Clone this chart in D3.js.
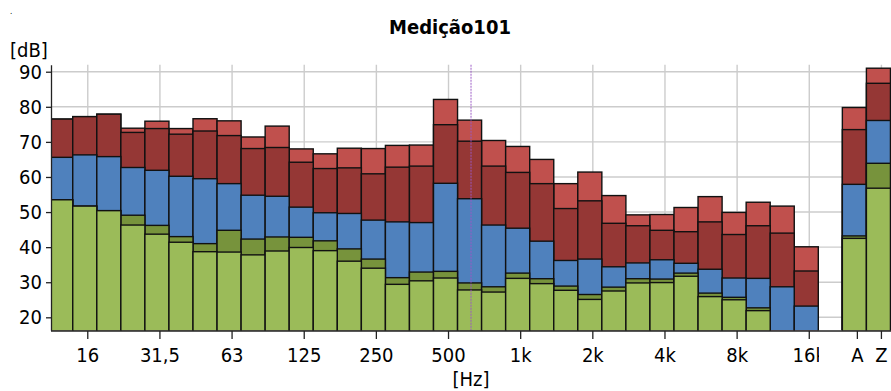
<!DOCTYPE html>
<html>
<head>
<meta charset="utf-8">
<script src="https://cdn.jsdelivr.net/npm/d3@7/dist/d3.min.js"></script>
<style>
  body { margin: 0; background: #fff; }
  svg text { font-family: "DejaVu Sans Condensed", "DejaVu Sans", sans-serif; font-stretch: condensed; fill: #000; }
</style>
</head>
<body>
<div id="chart"></div>
<script>
// 1/3 octave bands, then the two overall values
var bands = ["12.5","16","20","25","31.5","40","50","63","80","100","125","160","200","250","315","400",
             "500","630","800","1k","1.25k","1.6k","2k","2.5k","3.15k","4k","5k","6.3k","8k","10k","12.5k","16k","A","Z"];
// light red (top), dark red, blue, dark green, green (bottom)
var lMax  = [76.5,77.2,77.9,73.9,75.9,73.8,76.6,76.0,71.4,74.5,68.0,66.6,68.2,68.1,69.0,69.1,
             82.1,76.2,70.4,68.7,65.0,58.1,61.4,54.7,49.2,49.3,51.3,54.4,49.9,52.8,51.7,40.1,79.8,91.0];
var lHigh = [76.5,77.2,77.9,72.7,73.8,72.2,73.1,71.8,68.1,68.4,64.2,62.4,62.6,60.9,62.8,63.1,
             74.9,70.2,63.1,61.3,58.1,51.0,53.2,46.8,46.1,44.8,44.4,47.2,43.6,46.1,44.0,33.2,73.5,86.7];
var lMid  = [65.6,66.3,65.8,62.7,61.9,60.2,59.5,58.1,54.8,54.5,51.4,49.8,49.6,47.7,47.2,47.0,
             58.2,53.8,46.3,45.4,41.7,36.2,36.6,34.4,35.5,36.4,35.4,33.7,31.2,31.1,28.7,23.2,57.9,76.1];
var lLow  = [53.5,51.7,50.4,49.1,46.2,43.0,41.0,44.8,42.3,42.9,42.8,41.8,39.5,36.6,31.3,32.9,
             33.1,29.8,28.7,32.6,31.0,28.9,26.5,28.6,31.0,30.9,32.6,26.9,25.7,22.7,15.5,15.0,43.2,63.9];
var lMin  = [53.5,51.7,50.4,46.3,43.7,41.4,38.7,38.6,37.8,38.9,39.9,39.0,36.0,34.0,29.4,30.4,
             31.2,27.8,27.2,31.1,29.6,27.7,25.1,27.5,29.8,29.9,31.7,25.9,25.0,21.9,15.0,14.5,42.5,56.8];

var freqTicks  = ["16","31.5","63","125","250","500","1k","2k","4k","8k","16k"];
var freqLabels = ["16","31,5","63","125","250","500","1k","2k","4k","8k","16k"];
var sumTicks = ["A","Z"];
var yTicks = [20,30,40,50,60,70,80,90];
var cursorBand = "630";

var W = 891, H = 391;
var plot = {left: 51, right: 891, top: 64.7, bottom: 330.3};
var colors = ["#c0504d","#953735","#4f81bd","#77933c","#9bbb59"];
var series = [lMax, lHigh, lMid, lLow, lMin];

// slot list keeps an empty slot between 16k and A
var slots = bands.slice(0, 32).concat(["gap"], bands.slice(32));

var svg = d3.select("#chart").append("svg").attr("width", W).attr("height", H);
var defs = svg.append("defs");
defs.append("clipPath").attr("id", "plotClip").append("rect")
  .attr("x", plot.left).attr("y", plot.top)
  .attr("width", plot.right - plot.left).attr("height", plot.bottom - plot.top);
defs.append("clipPath").attr("id", "labelClip").append("rect")
  .attr("x", 0).attr("y", -10).attr("width", 819).attr("height", 80);

var x = d3.scaleBand().domain(slots).range([48.7, 890.45]).padding(0);
var y = d3.scaleLinear().domain([16.3, 92]).range([plot.bottom, plot.top]);
var bw = x.bandwidth();
var tickX = function(b) { return x(b) + bw / 2 + 3; };

// grid
svg.append("g").selectAll("line").data(yTicks).enter().append("line")
  .attr("x1", plot.left).attr("x2", plot.right)
  .attr("y1", function(d) { return y(d); }).attr("y2", function(d) { return y(d); })
  .attr("stroke", "#cccccc").attr("stroke-width", 1.4);
svg.append("g").selectAll("line").data(freqTicks.concat(["Z"])).enter().append("line")
  .attr("x1", tickX).attr("x2", tickX)
  .attr("y1", plot.top).attr("y2", plot.bottom)
  .attr("stroke", "#cccccc").attr("stroke-width", 1.4);

// bars: tallest level first, each level drawn from the bottom
var bars = svg.append("g").attr("clip-path", "url(#plotClip)");
series.forEach(function(vals, k) {
  bars.append("g").selectAll("rect").data(bands).enter().append("rect")
    .attr("x", function(b) { return x(b); })
    .attr("width", bw)
    .attr("y", function(b, i) { return y(vals[i]); })
    .attr("height", function(b, i) { return Math.max(0, y(16.3) - y(vals[i]) + 4); })
    .attr("fill", colors[k])
    .attr("stroke", "#111")
    .attr("stroke-width", 1.4);
});

// cursor
svg.append("line")
  .attr("x1", x(cursorBand) + bw * 0.56).attr("x2", x(cursorBand) + bw * 0.56)
  .attr("y1", plot.top).attr("y2", plot.bottom)
  .attr("stroke", "#9b59c6").attr("stroke-width", 1.2).attr("stroke-dasharray", "2,1").attr("opacity", 0.8);

// y axis
var yAxis = d3.axisLeft(y).tickValues(yTicks).tickSize(5).tickSizeOuter(0).tickPadding(4);
var yg = svg.append("g").attr("transform", "translate(" + plot.left + ",0)").call(yAxis);
yg.select(".domain").attr("stroke", "#222").attr("stroke-width", 1.3);
yg.selectAll(".tick line").attr("stroke", "#222").attr("stroke-width", 1.3);
yg.selectAll(".tick text").style("font-size", "20px");

// x axis line
svg.append("line").attr("x1", plot.left).attr("x2", plot.right).attr("y1", 331).attr("y2", 331)
  .attr("stroke", "#222").attr("stroke-width", 1.4);

function bottomAxis(values, labels, clip) {
  var ax = d3.axisBottom(x).tickValues(values).tickSize(8).tickPadding(0)
    .tickFormat(function(b) { return labels[values.indexOf(b)]; });
  var g = svg.append("g").attr("transform", "translate(0,331)").call(ax);
  if (clip) g.attr("clip-path", "url(#labelClip)");
  g.select(".domain").remove();
  g.selectAll(".tick").attr("transform", function(b) { return "translate(" + tickX(b) + ",0)"; });
  g.selectAll(".tick line").attr("stroke", "#222").attr("stroke-width", 1.3);
  g.selectAll(".tick text").attr("y", 31).attr("dy", null).style("font-size", "20px");
  return g;
}
bottomAxis(freqTicks, freqLabels, true);
bottomAxis(sumTicks, sumTicks, false);

// titles
svg.append("text").attr("x", 450).attr("y", 33.5).attr("text-anchor", "middle")
  .style("font-size", "20px").style("font-weight", "bold").text("Medição101");
svg.append("text").attr("x", 10).attr("y", 57).style("font-size", "20px").text("[dB]");
svg.append("text").attr("x", (plot.left + plot.right) / 2).attr("y", 386).attr("text-anchor", "middle")
  .style("font-size", "20px").text("[Hz]");
svg.append("text").attr("x", 10).attr("y", 14).style("font-size", "8px").text(".");
</script>
</body>
</html>
